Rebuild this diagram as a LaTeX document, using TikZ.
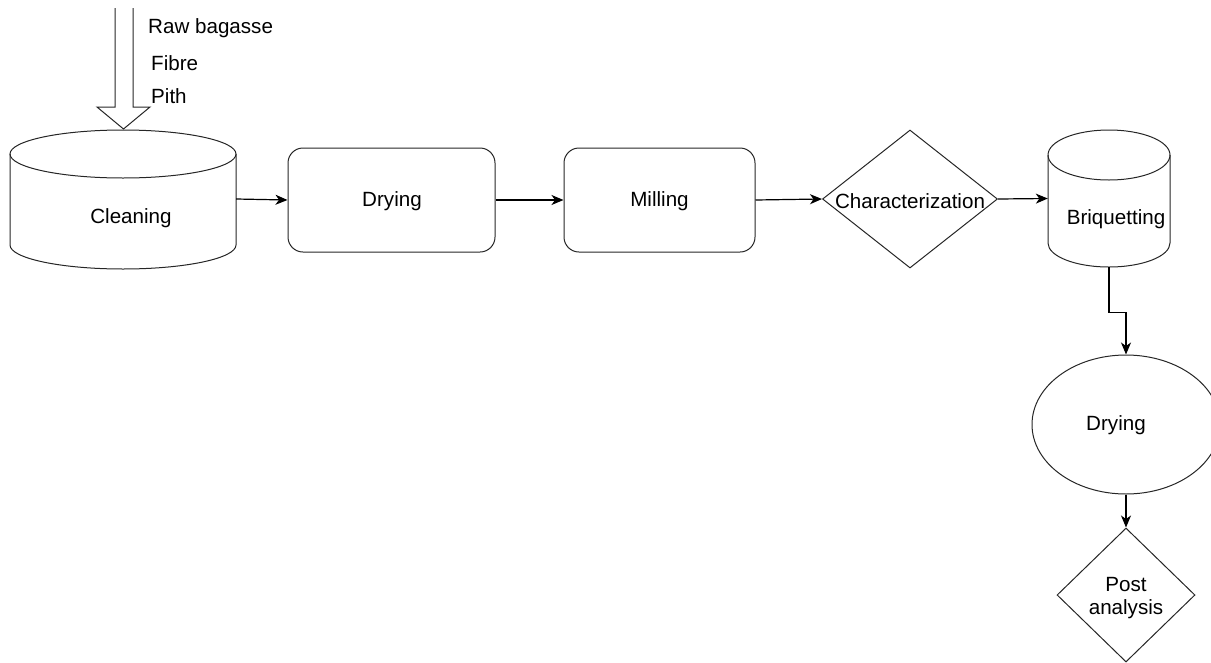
\documentclass[tikz,border=0pt]{standalone}
\usepackage{fontspec}
\setmainfont{Liberation Sans}
\usetikzlibrary{shapes.geometric,arrows.meta}
\begin{document}
\begin{tikzpicture}[x=1pt,y=1pt,
  shapeline/.style={draw=black!85, line width=1pt},
  txt/.style={font=\fontsize{20.6}{24}\selectfont, text=black, inner sep=0pt},
  rbox/.style={shapeline, rectangle, rounded corners=15pt, inner sep=0pt},
  dia/.style={shapeline, diamond, inner sep=0pt},
  ell/.style={shapeline, ellipse, inner sep=0pt},
  ghost/.style={rectangle, inner sep=0pt},
  conn/.style={draw=black, line width=1.2pt, -{Stealth[length=12pt,width=10pt,inset=3.5pt]}}
]
\useasboundingbox (0,0) rectangle (1211,-662);

% big hollow input arrow
\draw[shapeline] (115,-8) -- (115,-107) -- (97,-107) -- (123.5,-129) -- (150,-107) -- (133,-107) -- (133,-8);
\node[txt, anchor=west] (raw) at (148,-28) {Raw bagasse};
\node[txt, anchor=west] (fibre) at (151,-63) {Fibre};
\node[txt, anchor=west] (pith) at (151,-96) {Pith};

% Cleaning cylinder
\draw[shapeline] (10,-154) -- (10,-245) arc[start angle=180,end angle=360,x radius=113,y radius=24] -- (236,-154);
\draw[shapeline] (123,-154) ellipse [x radius=113, y radius=24];
\node[ghost, minimum width=226, minimum height=138] (cleanbox) at (123,-199) {};
\node[txt] (clean) at (131,-218) {Cleaning};

% Drying box
\node[rbox, minimum width=207, minimum height=104] (dry1) at (391.5,-200) {};
\node[txt] at (392,-201) {Drying};

% Milling box
\node[rbox, minimum width=191, minimum height=104] (mill) at (659.5,-200) {};
\node[txt] at (659.5,-201) {Milling};

% Characterization diamond
\node[dia, minimum width=175, minimum height=138] (char) at (910,-199) {};
\node[txt] at (910,-201) {Characterization};

% Briquetting cylinder
\draw[shapeline] (1048,-155) -- (1048,-243) arc[start angle=180,end angle=360,x radius=61,y radius=24] -- (1170,-155);
\draw[shapeline] (1109,-155) ellipse [x radius=61, y radius=25];
\node[ghost, minimum width=122, minimum height=137] (briqbox) at (1109,-198.5) {};
\node[txt] (briq) at (1116,-219) {Briquetting};

% Drying ellipse
\node[ell, minimum width=188, minimum height=139] (dry2) at (1126,-424.5) {};
\node[txt] at (1116,-425) {Drying};

% Post analysis diamond
\node[dia, minimum width=138, minimum height=134] (post) at (1126,-595) {};
\node[txt, align=center] at (1126,-598) {Post\\[-1pt]analysis};

% connectors
\draw[conn] (cleanbox.east) -- (dry1.west);
\draw[conn] (dry1.east) -- (mill.west);
\draw[conn] (mill.east) -- (char.west);
\draw[conn] (char.east) -- (briqbox.west);
\draw[conn] (briqbox.south) -- ++(0,-45) -| (dry2.north);
\draw[conn] (dry2.south) -- (post.north);
\end{tikzpicture}
\end{document}
